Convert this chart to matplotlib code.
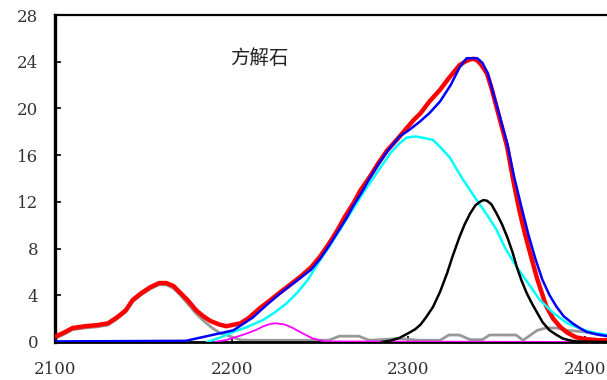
import matplotlib
matplotlib.use("Agg")
import matplotlib.pyplot as plt

# Measured spectrum (red)
meas_x = [2100, 2105, 2110, 2117, 2124, 2130, 2135, 2140, 2144, 2149, 2154, 2159, 2163,
          2167, 2171, 2175, 2180, 2184, 2188, 2193, 2197, 2205, 2210, 2216, 2222, 2227,
          2233, 2239, 2245, 2250, 2255, 2260, 2264, 2269, 2273, 2278, 2283, 2288, 2294,
          2299, 2303, 2307, 2312, 2318, 2323, 2329, 2332, 2335, 2337, 2339, 2341, 2344.5,
          2347, 2350, 2353, 2356, 2358, 2360, 2363, 2366, 2369, 2373, 2378, 2382, 2386,
          2390, 2395, 2400, 2408, 2413]
meas_y = [0.45, 0.8, 1.2, 1.35, 1.45, 1.6, 2.1, 2.7, 3.6, 4.2, 4.7, 5.05, 5.05,
          4.8, 4.2, 3.6, 2.7, 2.2, 1.8, 1.5, 1.35, 1.6, 2.1, 2.9, 3.6, 4.2,
          4.9, 5.6, 6.4, 7.3, 8.4, 9.6, 10.7, 11.9, 13.0, 14.1, 15.3, 16.4, 17.4,
          18.3, 19.0, 19.6, 20.6, 21.6, 22.6, 23.7, 24.0, 24.2, 24.25, 24.1, 23.8, 23.0,
          21.8, 20.1, 18.4, 16.7, 15.0, 13.4, 11.2, 9.3, 7.6, 5.4, 3.1, 2.0, 1.3,
          0.8, 0.4, 0.25, 0.15, 0.15]

# Fitted sum (blue)
fit_x = [2100, 2174, 2180, 2189, 2195, 2201, 2206, 2212, 2220, 2227, 2233, 2239, 2245,
         2250, 2255, 2260, 2265, 2269, 2274, 2278, 2283, 2288, 2295, 2300, 2306, 2312,
         2318, 2324, 2329, 2333, 2339, 2342, 2345, 2350, 2356, 2360, 2364, 2368, 2372,
         2376, 2380, 2384, 2388, 2393, 2397, 2401, 2407, 2413]
fit_y = [0.05, 0.1, 0.3, 0.6, 0.8, 1.0, 1.5, 2.1, 3.2, 4.1, 4.8, 5.5, 6.2,
         7.1, 8.2, 9.4, 10.6, 11.7, 12.9, 14.0, 15.2, 16.3, 17.6, 18.1, 18.8, 19.6,
         20.6, 22.0, 23.5, 24.3, 24.3, 23.9, 23.0, 20.3, 17.0, 14.1, 11.6, 9.2, 7.1,
         5.3, 4.0, 3.0, 2.2, 1.6, 1.2, 0.86, 0.65, 0.5]

# Component bands
cyan_x = [2186, 2193, 2199, 2209, 2218, 2225, 2231, 2237, 2243, 2250, 2255, 2260, 2265,
          2270, 2275, 2280, 2285, 2290, 2295, 2299, 2304, 2308, 2314, 2318, 2323.5, 2327,
          2331, 2335, 2339.4, 2345, 2350, 2355, 2361.5, 2368, 2374.5, 2382, 2390, 2395,
          2400, 2405, 2413]
cyan_y = [0.0, 0.35, 0.75, 1.3, 1.9, 2.6, 3.3, 4.2, 5.3, 7.0, 8.1, 9.3, 10.5,
          11.7, 12.9, 14.0, 15.1, 16.2, 17.0, 17.5, 17.6, 17.5, 17.3, 16.7, 15.8, 14.9,
          13.9, 13.0, 12.0, 10.8, 9.6, 8.0, 6.4, 5.0, 3.6, 2.5, 1.6, 1.3,
          1.0, 0.8, 0.6]

black_x = [2285, 2290, 2295, 2300, 2304, 2307, 2310, 2314, 2318, 2322, 2325, 2329, 2332,
           2335, 2338, 2340.5, 2342.5, 2344.5, 2347, 2350, 2353, 2356, 2359, 2361.5, 2364,
           2367, 2370, 2373, 2376, 2380, 2384, 2387.5, 2391, 2395, 2413]
black_y = [0.0, 0.12, 0.35, 0.75, 1.1, 1.5, 2.1, 3.0, 4.3, 5.9, 7.3, 9.0, 10.1,
           11.0, 11.7, 12.0, 12.15, 12.1, 11.8, 11.0, 10.1, 9.0, 7.7, 6.4, 5.3,
           4.2, 3.3, 2.5, 1.7, 1.0, 0.6, 0.3, 0.15, 0.05, 0.0]

mag_x = [2190, 2197, 2203, 2209, 2214, 2218, 2222, 2225, 2230, 2234, 2237, 2242, 2246,
         2253, 2413]
mag_y = [0.0, 0.17, 0.45, 0.75, 1.05, 1.35, 1.55, 1.6, 1.5, 1.25, 1.0, 0.6, 0.3,
         0.05, 0.0]

gray_x = [2100, 2105, 2110, 2117, 2124, 2130, 2135, 2140, 2144, 2149, 2154, 2159, 2163,
          2167, 2171, 2175, 2180, 2185, 2189, 2193, 2199, 2205, 2210, 2240, 2255, 2261,
          2272, 2278, 2295, 2306, 2318, 2323, 2329, 2335, 2342, 2346, 2361, 2365, 2373,
          2378, 2384, 2390, 2401, 2408, 2413]
gray_y = [0.3, 0.65, 1.05, 1.2, 1.3, 1.45, 1.95, 2.55, 3.45, 4.05, 4.55, 4.9, 4.9,
          4.6, 4.0, 3.3, 2.4, 1.7, 1.2, 0.8, 0.5, 0.17, 0.15, 0.15, 0.15, 0.5,
          0.5, 0.15, 0.3, 0.15, 0.15, 0.6, 0.6, 0.2, 0.2, 0.6, 0.6, 0.15, 1.0,
          1.2, 1.2, 1.0, 0.85, 0.6, 0.5]

x_ticks = [2100, 2200, 2300, 2400]
y_ticks = [0, 4, 8, 12, 16, 20, 24, 28]

W, H = 607, 380
fig = plt.figure(figsize=(W / 100, H / 100), dpi=100)
ax = fig.add_axes([55 / W, (H - 342) / H, (W - 55) / W, 327 / H])

style = dict(solid_joinstyle="round", solid_capstyle="round")
ax.plot(gray_x, gray_y, color="#999999", lw=2.0, zorder=2, **style)
ax.plot(meas_x, meas_y, color="#ff0000", lw=3.2, zorder=3, **style)
ax.plot(cyan_x, cyan_y, color="#00ffff", lw=1.8, zorder=4, **style)
ax.plot(mag_x, mag_y, color="#ff00ff", lw=1.3, zorder=4, **style)
ax.plot(black_x, black_y, color="black", lw=1.8, zorder=5, **style)
ax.plot(fit_x, fit_y, color="#0000ff", lw=1.8, zorder=6, **style)

ax.set_xlim(2100, 2412.5)
ax.set_ylim(0, 28)
ax.set_xticks(x_ticks)
ax.set_yticks(y_ticks)

for lab in ax.get_xticklabels() + ax.get_yticklabels():
    lab.set_family("DejaVu Serif")
    lab.set_fontsize(12)
    lab.set_color("#333333")

ax.tick_params(axis="both", direction="in", length=4, width=1.2, color="black")
ax.tick_params(axis="x", pad=14)
ax.tick_params(axis="y", pad=12)

ax.spines["right"].set_visible(False)
ax.spines["left"].set_linewidth(2.4)
ax.spines["bottom"].set_linewidth(2.0)
ax.spines["top"].set_linewidth(1.6)

ax.text(2199, 24.3, "方解石", family=["Noto Sans CJK SC", "DejaVu Sans"],
        fontsize=14, color="#222222", va="center", ha="left")

fig.savefig("out.png", dpi=100)
